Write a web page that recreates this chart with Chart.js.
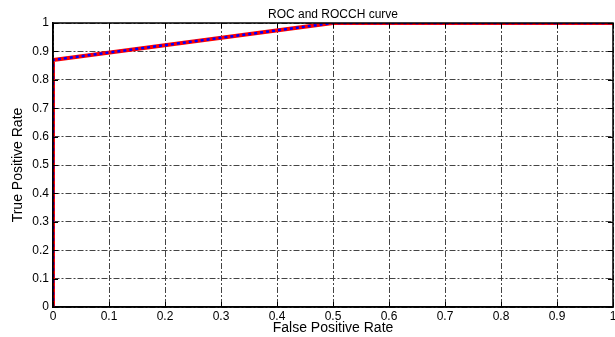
<!DOCTYPE html>
<html lang="en">

<head>
    <meta charset="UTF-8">
    <title>ROC and ROCCH curve</title>
    <script src="https://cdn.jsdelivr.net/npm/chart.js"></script>
    <style>
        body {
            margin: 0;
            padding: 0;
            background: #ffffff;
        }

        .chart-box {
            width: 615px;
            height: 337px;
        }
    </style>
</head>

<body>
    <div class="chart-box">
        <canvas id="rocChart" width="615" height="337"></canvas>
    </div>

    <script>
        // ROC curve points (false positive rate, true positive rate)
        const rocFpr = [0, 0, 0.5, 1];
        const rocTpr = [0, 0.87, 1, 1];
        // ROC convex hull points
        const hullFpr = [0, 0, 0.5, 1];
        const hullTpr = [0, 0.87, 1, 1];

        // tick labels, same on both axes
        const tickLabels = ['0', '0.1', '0.2', '0.3', '0.4', '0.5', '0.6', '0.7', '0.8', '0.9', '1'];

        const chartTitle = 'ROC and ROCCH curve';
        const xLabel = 'False Positive Rate';
        const yLabel = 'True Positive Rate';

        const toPoints = (xs, ys) => xs.map((x, i) => ({ x: x, y: ys[i] }));
        const tickText = v => tickLabels[Math.round(v * 10)];

        // title over the plot area, axes box and inward tick marks (matlab look)
        const matlabFrame = {
            id: 'matlabFrame',
            afterDraw(chart) {
                const ctx = chart.ctx;
                const a = chart.chartArea;
                const xs = chart.scales.x;
                const ys = chart.scales.y;
                ctx.save();
                ctx.strokeStyle = '#000';
                ctx.lineWidth = 1;
                ctx.setLineDash([]);
                ctx.beginPath();
                xs.ticks.forEach(t => {
                    const px = Math.round(xs.getPixelForValue(t.value)) + 0.5;
                    ctx.moveTo(px, a.bottom);
                    ctx.lineTo(px, a.bottom - 5);
                    ctx.moveTo(px, a.top);
                    ctx.lineTo(px, a.top + 5);
                });
                ys.ticks.forEach(t => {
                    const py = Math.round(ys.getPixelForValue(t.value)) + 0.5;
                    ctx.moveTo(a.left, py);
                    ctx.lineTo(a.left + 5, py);
                    ctx.moveTo(a.right, py);
                    ctx.lineTo(a.right - 5, py);
                });
                ctx.stroke();
                ctx.lineWidth = 1.5;
                ctx.strokeRect(a.left, a.top, a.right - a.left, a.bottom - a.top);

                ctx.fillStyle = '#000';
                ctx.font = '12px "Liberation Sans", Arial, sans-serif';
                ctx.textAlign = 'center';
                ctx.textBaseline = 'alphabetic';
                ctx.fillText(chartTitle, (a.left + a.right) / 2, 18);
                ctx.restore();
            }
        };

        const tickFont = { family: '"Liberation Sans", Arial, sans-serif', size: 12 };
        const titleFont = { family: '"Liberation Sans", Arial, sans-serif', size: 14 };
        const gridDash = [6, 2, 2, 2];

        new Chart(document.getElementById('rocChart'), {
            type: 'scatter',
            data: {
                datasets: [{
                    label: 'ROCCH',
                    data: toPoints(hullFpr, hullTpr),
                    showLine: true,
                    borderColor: '#0000ff',
                    borderWidth: 2.5,
                    borderDash: [3, 3],
                    pointRadius: 0,
                    fill: false
                }, {
                    label: 'ROC',
                    data: toPoints(rocFpr, rocTpr),
                    showLine: true,
                    borderColor: '#ff0000',
                    borderWidth: 4,
                    pointRadius: 0,
                    fill: false
                }]
            },
            options: {
                responsive: false,
                animation: false,
                layout: {
                    padding: { top: 23, right: 2, left: 0, bottom: 0 }
                },
                plugins: {
                    legend: { display: false },
                    tooltip: { enabled: false }
                },
                scales: {
                    x: {
                        type: 'linear',
                        min: 0,
                        max: 1,
                        afterFit: s => {
                            s.height = 30;
                            s.paddingLeft = 0;
                            s.paddingRight = 0;
                        },
                        ticks: { stepSize: 0.1, color: '#000', font: tickFont, padding: 2, maxRotation: 0, callback: tickText },
                        grid: { color: '#444', lineWidth: 1, drawTicks: false },
                        border: { color: '#000', width: 1.5, dash: gridDash },
                        title: { display: true, text: xLabel, color: '#000', font: titleFont, padding: { top: 0, bottom: 0 } }
                    },
                    y: {
                        type: 'linear',
                        min: 0,
                        max: 1,
                        afterFit: s => { s.width = 53; },
                        ticks: { stepSize: 0.1, color: '#000', font: tickFont, padding: 4, callback: tickText },
                        grid: { color: '#444', lineWidth: 1, drawTicks: false },
                        border: { color: '#000', width: 1.5, dash: gridDash },
                        title: { display: true, text: yLabel, color: '#000', font: titleFont, padding: { top: 10, bottom: 0 } }
                    }
                }
            },
            plugins: [matlabFrame]
        });
    </script>
</body>

</html>
